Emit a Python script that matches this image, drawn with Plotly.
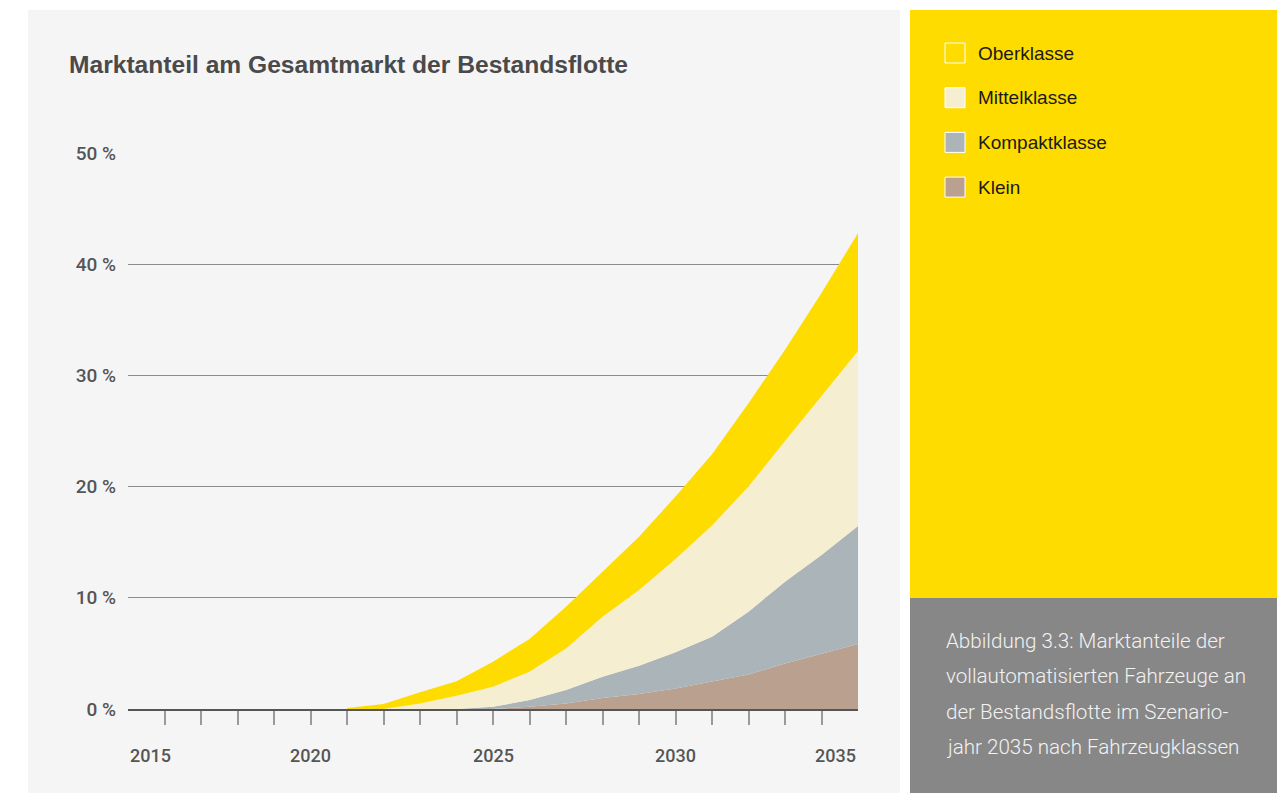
import plotly.graph_objects as go

# Marktanteil vollautomatisierter Fahrzeuge an der Bestandsflotte (in %)
jahre = [2021, 2022, 2023, 2024, 2025, 2026, 2027, 2028, 2029, 2030, 2031, 2032, 2033, 2034, 2035]
klein = [0, 0, 0, 0, 0, 0.2, 0.5, 1.0, 1.35, 1.85, 2.45, 3.1, 4.1, 5.0, 5.85]
kompakt = [0, 0, 0, 0, 0.2, 0.6, 1.2, 1.9, 2.55, 3.25, 4.05, 5.65, 7.35, 8.85, 10.6]
mittel = [0, 0, 0.5, 1.2, 1.8, 2.55, 3.75, 5.4, 6.8, 8.4, 10.0, 11.25, 12.65, 14.25, 15.75]
ober = [0.1, 0.45, 1.0, 1.3, 2.25, 2.95, 3.75, 4.05, 4.8, 5.6, 6.4, 7.5, 8.2, 9.3, 10.6]

klassen = ["Oberklasse", "Mittelklasse", "Kompaktklasse", "Klein"]
farben = ["#FFDC00", "#F5EED0", "#AAB4B9", "#B9A08F"]

y_ticks = [0, 10, 20, 30, 40, 50]
x_labels = [2015, 2020, 2025, 2030, 2035]
caption = ["Abbildung 3.3: Marktanteile der",
           "vollautomatisierten Fahrzeuge an",
           "der Bestandsflotte im Szenario-",
           "jahr 2035 nach Fahrzeugklassen"]

W, H = 1287, 793
def px(x):
    return x / W
def py(y):
    return 1 - y / H

fig = go.Figure()

# stacked areas, bottom first
for name, vals, col in [("Klein", klein, farben[3]),
                        ("Kompaktklasse", kompakt, farben[2]),
                        ("Mittelklasse", mittel, farben[1]),
                        ("Oberklasse", ober, farben[0])]:
    fig.add_trace(go.Scatter(x=jahre, y=vals, name=name, stackgroup="one",
                             mode="lines", line=dict(width=0, color=col),
                             fillcolor=col, showlegend=False, hoverinfo="x+y+name"))

shapes = [
    # panels
    dict(type="rect", xref="paper", yref="paper", x0=px(28), x1=px(900), y0=py(793), y1=py(10),
         fillcolor="#F5F5F5", line_width=0, layer="below"),
    dict(type="rect", xref="paper", yref="paper", x0=px(910), x1=px(1277), y0=py(598), y1=py(10),
         fillcolor="#FFDC00", line_width=0, layer="below"),
    dict(type="rect", xref="paper", yref="paper", x0=px(910), x1=px(1277), y0=py(793), y1=py(598),
         fillcolor="#878787", line_width=0, layer="below"),
]

annotations = [
    dict(text="Marktanteil am Gesamtmarkt der Bestandsflotte", xref="paper", yref="paper",
         x=px(67), y=py(65), xanchor="left", yanchor="middle", showarrow=False,
         font=dict(family="Liberation Sans", size=24.6, color="#4A4A4A", weight="bold")),
]

# legend in the yellow panel
for i, (name, col) in enumerate(zip(klassen, farben)):
    cy = 53 + i * 44.7
    shapes.append(dict(type="rect", xref="paper", yref="paper", x0=px(945), x1=px(965),
                       y0=py(cy + 10), y1=py(cy - 10), fillcolor=col,
                       line=dict(color="white", width=1)))
    annotations.append(dict(text=name, xref="paper", yref="paper", x=px(976), y=py(cy),
                            xanchor="left", yanchor="middle", showarrow=False,
                            font=dict(family="Liberation Sans", size=19, color="#1A1A1A")))

for i, line in enumerate(caption):
    annotations.append(dict(text=line, xref="paper", yref="paper", x=px(944), y=py(641 + i * 35.3),
                            xanchor="left", yanchor="middle", showarrow=False,
                            font=dict(family="Roboto", size=20.6, color="#F2F2F2", weight=300)))

# year labels below the axis
for yr in x_labels:
    anchor = "center"
    if yr == x_labels[0]:
        anchor = "left"
    elif yr == x_labels[-1]:
        anchor = "right"
    annotations.append(dict(text=str(yr), xref="x", yref="paper", x=yr, y=py(755),
                            xanchor=anchor, yanchor="middle", showarrow=False,
                            font=dict(family="Roboto", size=18, color="#555555", weight=500)))

fig.update_layout(
    width=W, height=H, autosize=False,
    margin=dict(l=0, r=0, t=0, b=0, pad=0, autoexpand=False),
    paper_bgcolor="white", plot_bgcolor="rgba(0,0,0,0)",
    shapes=shapes, annotations=annotations,
    showlegend=False,
    xaxis=dict(domain=[px(128), px(858)], range=[2015, 2035], automargin=False,
               tickvals=list(range(2016, 2035)), showticklabels=False,
               ticks="outside", ticklen=14, tickwidth=2, tickcolor="#9A9A9A",
               showgrid=False, zeroline=False,
               showline=True, linecolor="#555555", linewidth=1.5),
    yaxis=dict(domain=[py(709), py(153)], range=[0, 50], automargin=False,
               tickvals=y_ticks, ticktext=[f"{v} %" for v in y_ticks],
               ticks="", ticklabelstandoff=11,
               tickfont=dict(family="Roboto", size=19, color="#555555", weight=500),
               showgrid=True, gridcolor="#8C8C8C", gridwidth=1, zeroline=False),
)

# pin the figure to the top left corner so the page is exactly the figure
pin = ("document.body.style.margin='0';document.body.style.overflow='hidden';"
       "var d=document.getElementById('{plot_id}');d.style.position='fixed';"
       "d.style.top='0px';d.style.left='0px';")
fig.write_html("out.html", config={"displayModeBar": False}, post_script=pin)
